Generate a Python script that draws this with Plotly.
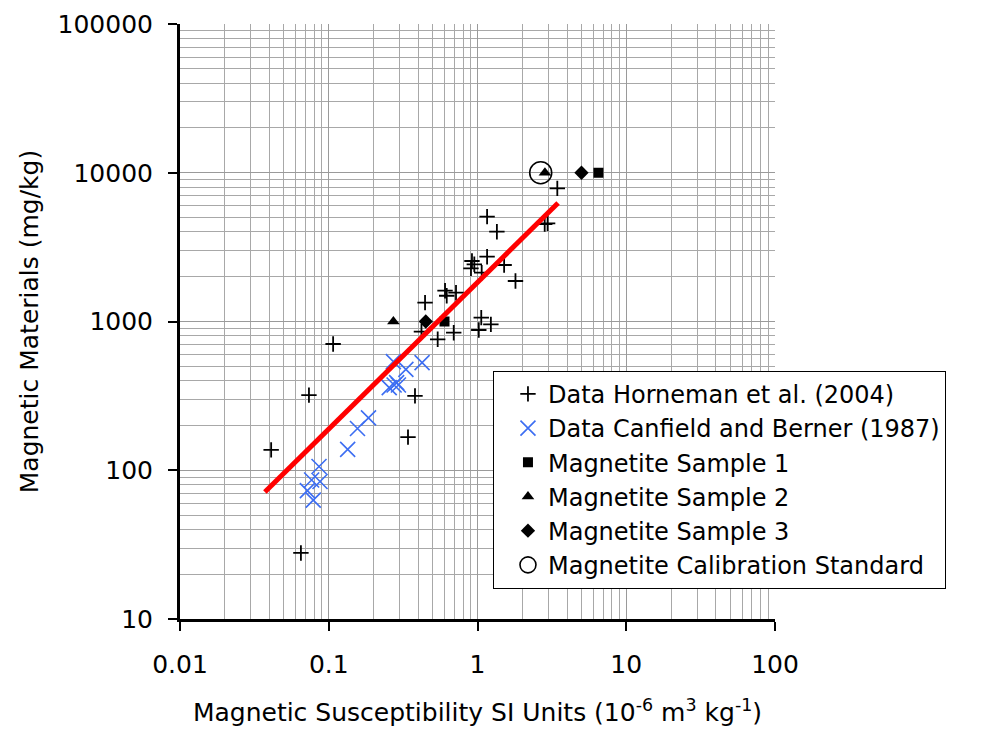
import plotly.graph_objects as go

# Horneman et al. (2004)
horneman_x = [0.041, 0.065, 0.0736, 0.107, 0.341, 0.38, 0.42, 0.444, 0.54, 0.692,
              0.605, 0.621, 0.717, 0.918, 0.952, 0.904, 1.16, 1.067, 1.51, 1.16,
              1.35, 1.80, 1.06, 1.23, 1.02, 2.83, 2.96, 3.44]
horneman_y = [137, 27.8, 320, 706, 167, 316, 854, 1339, 759, 841,
              1611, 1490, 1562, 2551, 2424, 2278, 2727, 2128, 2398, 5070,
              4016, 1872, 1061, 957, 877, 4521, 4571, 7855]

# Canfield and Berner (1987)
canfield_x = [0.272, 0.330, 0.424, 0.255, 0.275, 0.286, 0.294, 0.185, 0.156, 0.134,
              0.086, 0.0767, 0.0874, 0.0718, 0.0787]
canfield_y = [537, 477, 529, 359, 374, 388, 374, 225, 191, 138,
              106, 86, 84, 72.9, 63]

sample1_x = [0.6, 6.5]
sample1_y = [1000, 10000]
sample2_x = [0.272, 2.84]
sample2_y = [1000, 10000]
sample3_x = [0.449, 5.0]
sample3_y = [1000, 10000]
calib_x = [2.66]
calib_y = [10000]

fit_x = [0.0372, 3.48]
fit_y = [71.4, 6262]

x_ticks = [0.01, 0.1, 1, 10, 100]
x_labels = ["0.01", "0.1", "1", "10", "100"]
y_ticks = [10, 100, 1000, 10000, 100000]
y_labels = ["10", "100", "1000", "10000", "100000"]

FONT = "DejaVu Sans"

fig = go.Figure()
fig.add_trace(go.Scatter(x=horneman_x, y=horneman_y, mode="markers",
                         name="Data Horneman et al. (2004)",
                         marker=dict(symbol="cross-thin-open", size=11,
                                     line=dict(color="black", width=1.8), color="black")))
fig.add_trace(go.Scatter(x=canfield_x, y=canfield_y, mode="markers",
                         name="Data Canfield and Berner (1987)",
                         marker=dict(symbol="x-thin-open", size=15,
                                     line=dict(color="#3D6EF2", width=1.6), color="#3D6EF2")))
fig.add_trace(go.Scatter(x=sample1_x, y=sample1_y, mode="markers",
                         name="Magnetite Sample 1",
                         marker=dict(symbol="square", size=10, color="black")))
fig.add_trace(go.Scatter(x=sample2_x, y=sample2_y, mode="markers",
                         name="Magnetite Sample 2",
                         marker=dict(symbol="triangle-up", size=11, color="black")))
fig.add_trace(go.Scatter(x=sample3_x, y=sample3_y, mode="markers",
                         name="Magnetite Sample 3",
                         marker=dict(symbol="diamond", size=11, color="black")))
fig.add_trace(go.Scatter(x=calib_x, y=calib_y, mode="markers",
                         name="Magnetite Calibration Standard",
                         marker=dict(symbol="circle-open", size=22,
                                     line=dict(color="black", width=1.6), color="black")))
fig.add_trace(go.Scatter(x=fit_x, y=fit_y, mode="lines", showlegend=False,
                         line=dict(color="#FF0000", width=5)))

axis_common = dict(
    type="log", automargin=False,
    showline=True, linecolor="black", linewidth=3,
    ticks="outside", ticklen=9, tickwidth=2, tickcolor="black",
    showgrid=True, gridcolor="#9a9a9a", gridwidth=1,
    zeroline=False, mirror=False,
    tickfont=dict(family=FONT, size=25, color="black"),
    minor=dict(dtick="D1", showgrid=True, gridcolor="#a8a8a8", gridwidth=1, ticks=""),
)

fig.update_xaxes(**axis_common, range=[-2, 2], tickmode="array",
                 tickvals=x_ticks, ticktext=x_labels, ticklabelstandoff=12,
                 title=dict(text="Magnetic Susceptibility SI Units (10<sup>-6</sup> m<sup>3</sup> kg<sup>-1</sup>)",
                            font=dict(family=FONT, size=25, color="black"), standoff=26))
fig.update_yaxes(**axis_common, range=[1, 5], tickmode="array",
                 tickvals=y_ticks, ticktext=y_labels, ticklabelstandoff=10,
                 title=dict(text="Magnetic Materials (mg/kg)",
                            font=dict(family=FONT, size=25, color="black"), standoff=12))

fig.update_layout(
    width=995, height=730,
    margin=dict(l=172, r=228, t=16, b=119),
    paper_bgcolor="white", plot_bgcolor="white",
    font=dict(family=FONT, size=24, color="black"),
    legend=dict(x=0.526, y=0.234, xanchor="left", yanchor="middle",
                bgcolor="white", bordercolor="black", borderwidth=1,
                font=dict(family=FONT, size=24, color="black"),
                indentation=14, tracegroupgap=0),
)

fig.write_html("out.html")
